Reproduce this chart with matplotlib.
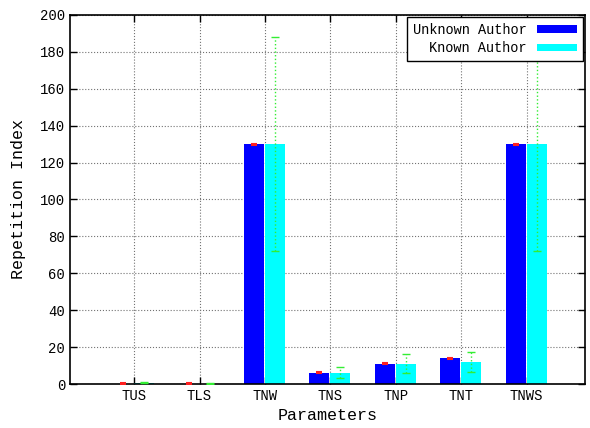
import matplotlib.pyplot as plt
import numpy as np
from matplotlib import rcParams

rcParams['font.family'] = ['Liberation Mono', 'DejaVu Sans Mono']

params = ['TUS', 'TLS', 'TNW', 'TNS', 'TNP', 'TNT', 'TNWS']
unknown = [0.1, 0.1, 130, 6, 11, 14, 130]
unknown_err = [0.3, 0.3, 0.3, 0.3, 0.3, 0.3, 0.3]
known = [0.8, 0.1, 130, 6, 11, 12, 130]
known_err = [0.4, 0.2, 58, 3, 5, 5.5, 58]


def plot_repetition():
    x = np.arange(len(params))
    w = 0.305

    fig = plt.figure(figsize=(5.9, 4.28), dpi=100)
    ax = fig.add_axes([0.1186, 0.1028, 0.8729, 0.8622])

    # 网格线放在柱子后面
    ax.set_axisbelow(True)
    ax.grid(True, color='0.45', linestyle=':', linewidth=0.8)

    ax.bar(x - 0.32, unknown, w, align='edge', color='#0000ff',
           label='Unknown Author', zorder=2)
    ax.bar(x, known, w, align='edge', color='#00ffff',
           label='Known Author', zorder=2)
    ax.errorbar(x - 0.32 + w / 2, unknown, yerr=unknown_err, fmt='none',
                ecolor='#ff2020', elinewidth=1.5, capsize=2.5, capthick=1.5,
                zorder=3)
    eb = ax.errorbar(x + w / 2, known, yerr=known_err, fmt='none',
                     ecolor='#33ee33', elinewidth=1.0, capsize=3,
                     capthick=1.0, zorder=3)
    eb[2][0].set_linestyle(':')

    ax.set_xlim(-0.98, 6.89)
    ax.set_ylim(0, 200)
    ax.set_xticks(x)
    ax.set_xticklabels(params)
    ax.set_yticks(np.arange(0, 201, 20))
    ax.tick_params(direction='in', length=5, width=1, labelsize=10,
                   top=True, right=True)
    for s in ax.spines.values():
        s.set_linewidth(1.2)

    ax.set_xlabel('Parameters', fontsize=12, labelpad=4)
    ax.set_ylabel('Repetition Index', fontsize=12, labelpad=10)

    leg = ax.legend(loc='upper right', markerfirst=False, fontsize=9.8,
                    fancybox=False, framealpha=1, edgecolor='black',
                    borderaxespad=0.15, handlelength=2.9, handleheight=0.5,
                    labelspacing=0.3, borderpad=0.45)
    leg.get_frame().set_linewidth(1.0)
    for t in leg.get_texts():
        t.set_ha('right')

    plt.savefig('out.png', dpi=100)


if __name__ == '__main__':
    plot_repetition()
